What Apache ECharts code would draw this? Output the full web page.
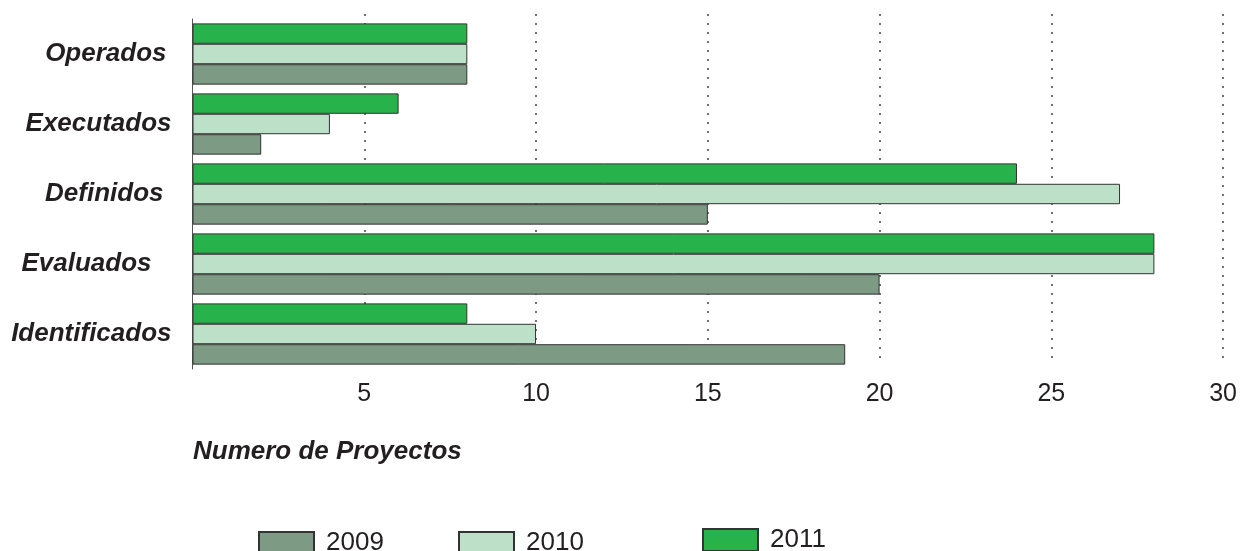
<!DOCTYPE html>
<html>
<head>
<meta charset="utf-8">
<style>html,body{margin:0;padding:0;background:#fff;}#c{width:1240px;height:551px;}</style>
<script src="https://cdn.jsdelivr.net/npm/echarts@6/dist/echarts.min.js"></script>
</head>
<body>
<div id="c"></div>
<script>
const categories = ['Operados', 'Executados', 'Definidos', 'Evaluados', 'Identificados'];
const years = ['2009', '2010', '2011'];
const v2009 = [8, 2, 15, 20, 19];
const v2010 = [8, 4, 27, 28, 10];
const v2011 = [8, 6, 24, 28, 8];
const axisTitle = 'Numero de Proyectos';

const labelPad = {Operados: 5, Executados: 0, Definidos: 8, Evaluados: 20, Identificados: 0};
const font = '"Liberation Sans", Arial, sans-serif';
const colors = {'2009': '#7d9a85', '2010': '#bde1c8', '2011': '#28b24b'};
const valuesByYear = {'2009': v2009, '2010': v2010, '2011': v2011};

const rich = {};
categories.forEach((c, i) => {
  rich['p' + i] = {fontSize: 26, fontWeight: 'bold', fontStyle: 'italic', color: '#231f20', fontFamily: font, padding: [0, labelPad[c], 0, 0]};
});

const chart = echarts.init(document.getElementById('c'));
const legendPos = [{left: 258, top: 530}, {left: 458, top: 530}, {left: 702, top: 527}];
chart.setOption({
  animation: false,
  title: {text: axisTitle, left: 188, top: 434, textStyle: {fontSize: 26, fontWeight: 'bold', fontStyle: 'italic', color: '#231f20', fontFamily: font}},
  legend: years.map((y, i) => ({
    data: [y], left: legendPos[i].left, top: legendPos[i].top, padding: 0, itemWidth: 55, itemHeight: 22, itemGap: 0,
    icon: 'rect', textStyle: {fontSize: 26, color: '#231f20', fontFamily: font, padding: [4, 0, 0, 7]}
  })),
  grid: [
    {left: 192.5, right: 14, top: 19, height: 350, containLabel: false},
    {left: 192.5, right: 17, top: 14, height: 350, containLabel: false}
  ],
  xAxis: [
    {gridIndex: 0, type: 'value', min: 0, max: 30, interval: 5,
      axisLine: {show: false}, axisTick: {show: false}, splitLine: {show: false},
      axisLabel: {fontSize: 25, color: '#231f20', fontFamily: font, margin: 13, formatter: v => v === 0 ? '' : String(v)}},
    {gridIndex: 1, type: 'value', min: 0, max: 30, interval: 5, z: 0,
      axisLine: {show: false}, axisTick: {show: false}, axisLabel: {show: false},
      splitLine: {show: true, showMinLine: false, lineStyle: {color: '#444', width: 1.5, type: [2, 7]}}}
  ],
  yAxis: [
    {gridIndex: 0, type: 'category', data: categories, inverse: true,
      axisLine: {show: true, lineStyle: {color: '#555', width: 1}}, axisTick: {show: false},
      axisLabel: {margin: 21, formatter: (v, i) => '{p' + categories.indexOf(v) + '|' + v + '}', rich: rich}},
    {gridIndex: 1, type: 'category', data: categories, show: false}
  ],
  series: ['2011', '2010', '2009'].map(y => ({
    name: y, type: 'bar', xAxisIndex: 0, yAxisIndex: 0, data: valuesByYear[y],
    barGap: 0, barCategoryGap: '12.5%',
    itemStyle: {color: colors[y], borderColor: '#333', borderWidth: 1}
  }))
});
</script>
</body>
</html>
